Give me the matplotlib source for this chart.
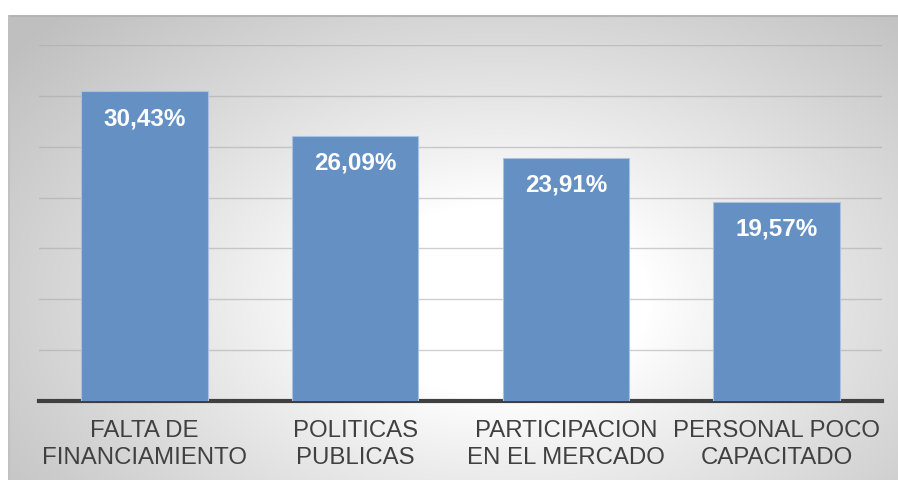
import numpy as np
import matplotlib
matplotlib.use("Agg")
import matplotlib.pyplot as plt

categories = ["FALTA DE\nFINANCIAMIENTO", "POLITICAS\nPUBLICAS",
              "PARTICIPACION\nEN EL MERCADO", "PERSONAL POCO\nCAPACITADO"]
values = [30.43, 26.09, 23.91, 19.57]
value_labels = ["30,43%", "26,09%", "23,91%", "19,57%"]

W, H = 898, 480
fig = plt.figure(figsize=(W / 100, H / 100), dpi=100)
fig.patch.set_facecolor("white")

# background radial gradient (chart area)
x0, y0 = 8, 15
bg = fig.add_axes([x0 / W, 0, 1 - x0 / W, 1 - y0 / H])
bg.set_axis_off()
xs = np.arange(x0, W) + 0.5
ys = np.arange(y0, H) + 0.5
X, Y = np.meshgrid(xs, ys)
r = np.sqrt(((X - 500) / 500) ** 2 + ((Y - 300) / 320) ** 2)
v = 1 - 0.25 * np.clip((r - 0.3) / 0.95, 0, 1) ** 0.9
img = np.dstack([v, v, v])
bg.imshow(img, aspect="auto", extent=[0, 1, 0, 1], origin="upper")
bg.set_xlim(0, 1); bg.set_ylim(0, 1)
# border
bg.plot([0, 1], [0.998, 0.998], color="#B4B4B4", lw=1.5, transform=bg.transAxes)
bg.plot([0.001, 0.001], [0, 1], color="#C0C0C0", lw=1.2, transform=bg.transAxes)

left, right = 39, 882
top, base = 45, 401
ax = fig.add_axes([left / W, (H - base) / H, (right - left) / W, (base - top) / H])
ax.patch.set_alpha(0)
ax.set_ylim(0, 35)
ax.set_xlim(-0.5, len(categories) - 0.5)
ax.set_yticks(np.arange(5, 36, 5))
ax.yaxis.grid(True, color="#A8A8A8", lw=1.0, alpha=0.55)
ax.set_axisbelow(True)
ax.tick_params(axis="y", left=False, labelleft=False)
ax.tick_params(axis="x", bottom=False, pad=10)
for s in ["top", "right", "left"]:
    ax.spines[s].set_visible(False)
ax.spines["bottom"].set_color("#404040")
ax.spines["bottom"].set_linewidth(3)

xpos = np.arange(len(categories))
bars = ax.bar(xpos, values, width=0.6, color="#6590C4", edgecolor="#A9C2E3",
              linewidth=0.8, zorder=3)
ax.set_xticks(xpos)
ax.set_xticklabels(categories, fontfamily="Liberation Sans", fontsize=17.3,
                   color="#404040", linespacing=1.3)

for b, lab in zip(bars, value_labels):
    ax.annotate(lab, (b.get_x() + b.get_width() / 2, b.get_height()),
                xytext=(0, -11.5), textcoords="offset points", ha="center", va="top",
                fontfamily="Liberation Sans", fontweight="bold", fontsize=17.5,
                color="white", zorder=4)

fig.savefig("out.png", dpi=100)
